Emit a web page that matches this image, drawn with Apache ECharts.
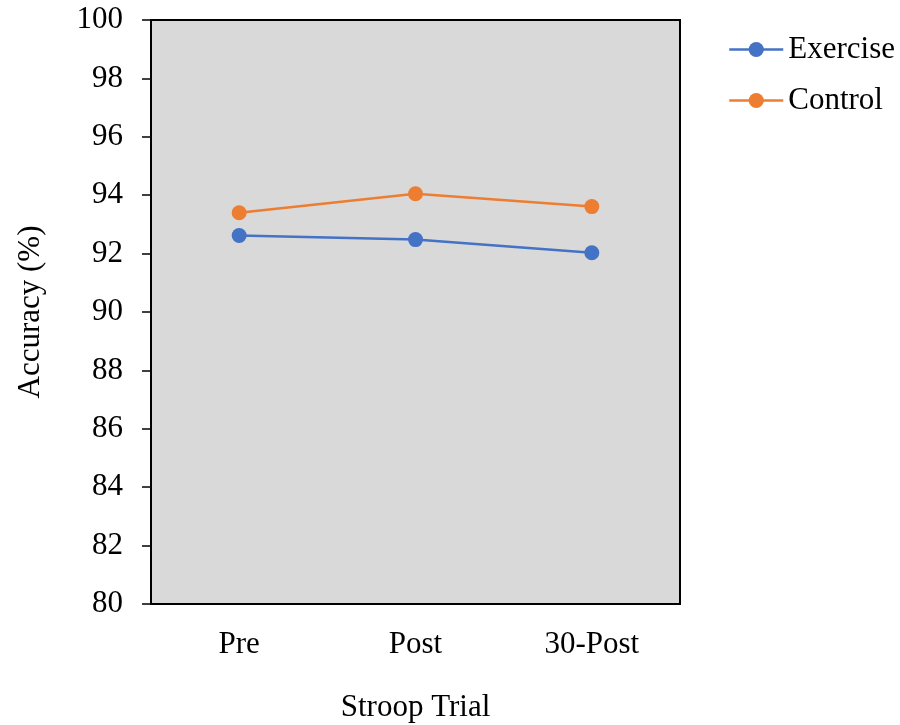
<!DOCTYPE html>
<html>
<head>
<meta charset="utf-8">
<script src="https://cdn.jsdelivr.net/npm/echarts@6/dist/echarts.min.js"></script>
<style>
  html, body { margin: 0; padding: 0; background: #fff; }
  #chart { width: 900px; height: 725px; }
</style>
</head>
<body>
<div id="chart"></div>
<script>
// categories and series
const trials = ['Pre', 'Post', '30-Post'];
const exercise = [92.62, 92.48, 92.03];
const control = [93.40, 94.05, 93.61];

const font = 'Liberation Serif, Times New Roman, serif';

let myChart = echarts.init(document.getElementById('chart'));
myChart.setOption({
  animation: false,
  textStyle: { fontFamily: font },
  grid: {
    left: 151, right: 220, top: 20, bottom: 121,
    outerBoundsMode: 'none',
    containLabel: false,
    show: true,
    backgroundColor: '#D9D9D9',
    borderColor: '#000',
    borderWidth: 2
  },
  legend: {
    orient: 'vertical',
    left: 728,
    top: 34,
    padding: 0,
    itemWidth: 54,
    itemHeight: 19,
    itemGap: 20,
    textStyle: { fontFamily: font, fontSize: 31, color: '#000' },
    lineStyle: { width: 2.5 },
    data: ['Exercise', 'Control']
  },
  xAxis: {
    type: 'category',
    data: trials,
    name: 'Stroop Trial',
    nameLocation: 'middle',
    nameGap: 88,
    nameTextStyle: { fontFamily: font, fontSize: 31, color: '#000' },
    axisLine: { lineStyle: { color: '#000', width: 2 } },
    axisTick: { alignWithLabel: true, length: 8, lineStyle: { color: '#000', width: 1.5 } },
    axisLabel: { fontFamily: font, fontSize: 31, color: '#000', margin: 25 },
    splitLine: { show: false }
  },
  yAxis: {
    type: 'value',
    min: 80,
    max: 100,
    interval: 2,
    name: 'Accuracy (%)',
    nameLocation: 'middle',
    nameGap: 105,
    nameTextStyle: { fontFamily: font, fontSize: 31, color: '#000' },
    axisLine: { show: true, lineStyle: { color: '#000', width: 2 } },
    axisTick: { show: true, length: 9, lineStyle: { color: '#000', width: 1.5 } },
    axisLabel: { fontFamily: font, fontSize: 31, color: '#000', margin: 28 },
    splitLine: { show: false }
  },
  series: [
    {
      name: 'Exercise',
      type: 'line',
      data: exercise,
      symbol: 'circle',
      symbolSize: 15,
      color: '#4472C4',
      lineStyle: { width: 2.5, color: '#4472C4' },
      itemStyle: { color: '#4472C4' }
    },
    {
      name: 'Control',
      type: 'line',
      data: control,
      symbol: 'circle',
      symbolSize: 15,
      color: '#ED7D31',
      lineStyle: { width: 2.5, color: '#ED7D31' },
      itemStyle: { color: '#ED7D31' }
    }
  ]
});
</script>
</body>
</html>
